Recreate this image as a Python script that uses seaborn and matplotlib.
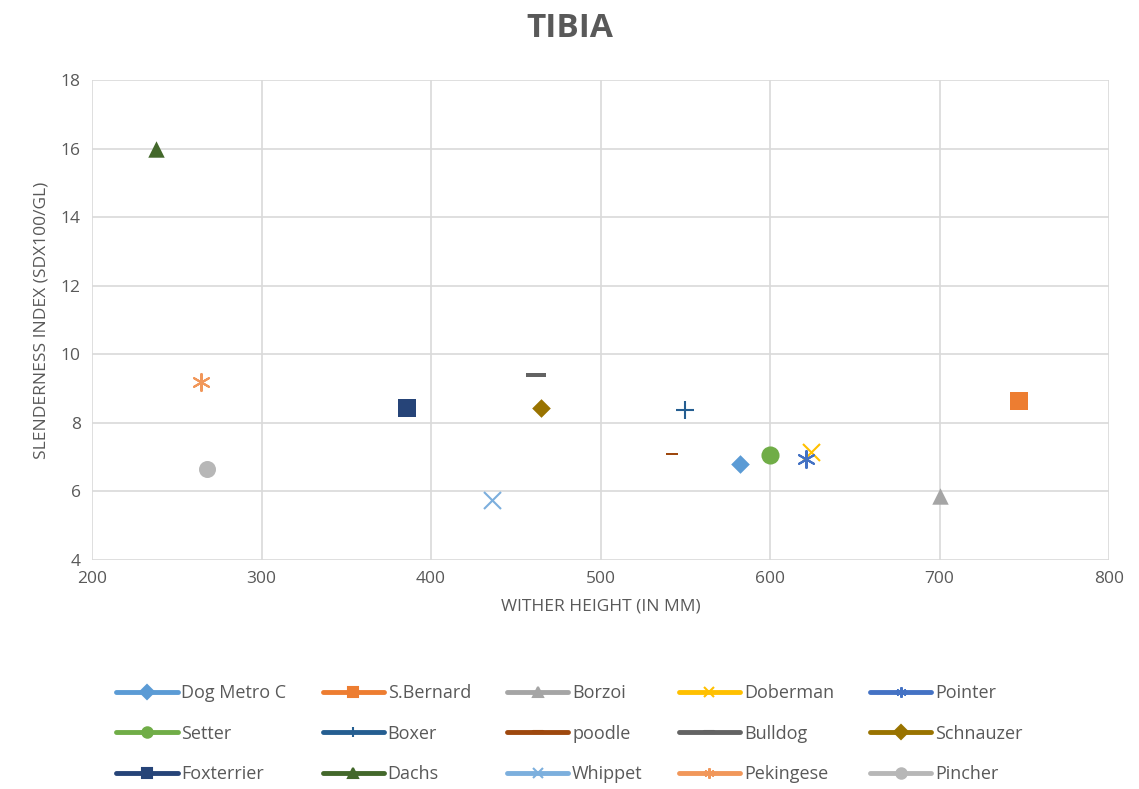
import numpy as np
import pandas as pd
import matplotlib
matplotlib.use("Agg")
import matplotlib.pyplot as plt
import seaborn as sns
from matplotlib.lines import Line2D

breeds = ["Dog Metro C", "S.Bernard", "Borzoi", "Doberman", "Pointer",
          "Setter", "Boxer", "poodle", "Bulldog", "Schnauzer",
          "Foxterrier", "Dachs", "Whippet", "Pekingese", "Pincher"]
wither_height = [582, 747, 700, 624, 621, 600, 550, 542, 462, 465, 386, 238, 436, 264, 268]
slenderness = [6.8, 8.65, 5.88, 7.15, 6.95, 7.05, 8.37, 7.1, 9.4, 8.43, 8.43, 16.0, 5.75, 9.2, 6.65]

colors = ["#5B9BD5", "#ED7D31", "#A5A5A5", "#FFC000", "#4472C4",
          "#70AD47", "#255E91", "#9E480E", "#636363", "#997300",
          "#264478", "#43682B", "#7CAFDD", "#F1975A", "#B7B7B7"]
dash = [(-1, -0.25), (1, -0.25), (1, 0.25), (-1, 0.25), (-1, -0.25)]
markers = ["D", "s", "^", "x", (6, 2, 0), "o", "+", dash, dash, "D", "s", "^", "x", (6, 2, 0), "o"]
sizes = [90, 150, 140, 150, 150, 170, 150, 70, 200, 90, 150, 140, 150, 150, 150]

df = pd.DataFrame({"breed": breeds, "x": wither_height, "y": slenderness})

sns.set_style("white")
plt.rcParams["font.family"] = ["Open Sans", "DejaVu Sans"]
grey = "#595959"

fig = plt.figure(figsize=(11.39, 7.89), dpi=100)
ax = fig.add_axes([0.0808, 0.2902, 0.8929, 0.6084])

for i, b in enumerate(breeds):
    sub = df[df.breed == b]
    lw = 1.5 if markers[i] in ("x", "+", (6, 2, 0)) else 0
    sns.scatterplot(data=sub, x="x", y="y", ax=ax, marker=markers[i], s=sizes[i],
                    color=colors[i], linewidth=lw, edgecolor=colors[i], legend=False, zorder=3)

ax.set_xlim(200, 800)
ax.set_ylim(4, 18)
ax.set_xticks(np.arange(200, 801, 100))
ax.set_yticks(np.arange(4, 19, 2))
ax.grid(True, color="#d9d9d9", linewidth=1.2)
for s in ax.spines.values():
    s.set_visible(False)
ax.tick_params(axis="both", colors=grey, labelsize=12.5, length=0, pad=8)
ax.set_xlabel("WITHER HEIGHT (IN MM)", color=grey, fontsize=12.5, labelpad=8)
ax.set_ylabel("SLENDERNESS INDEX (SDX100/GL)", color=grey, fontsize=12.5, labelpad=8)
fig.suptitle("TIBIA", x=0.5, y=0.985, fontsize=24, fontweight="bold", color=grey)

handles = []
for i, b in enumerate(breeds):
    handles.append(Line2D([0], [0], color=colors[i], linewidth=3.5, marker=markers[i],
                          markersize=7.5, markerfacecolor=colors[i], markeredgecolor=colors[i],
                          markeredgewidth=1.5, label=b))
order = [r * 5 + c for c in range(5) for r in range(3)]
fig.legend([handles[k] for k in order], [breeds[k] for k in order],
           loc="center", bbox_to_anchor=(0.5, 0.07), ncol=5, frameon=False,
           fontsize=13, handlelength=3.4, handletextpad=0.2, columnspacing=2.0,
           labelspacing=1.25, labelcolor=grey)

fig.savefig("out.png", dpi=100)
